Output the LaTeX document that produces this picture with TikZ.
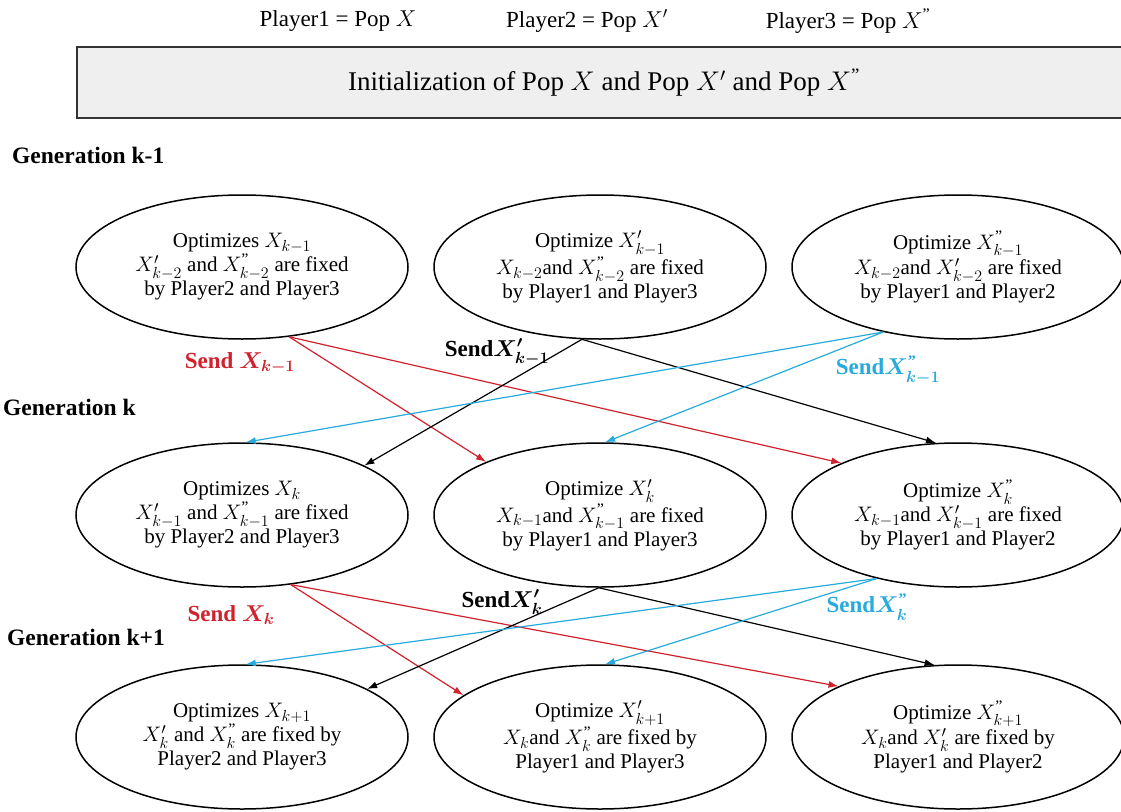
\RequirePackage{fix-cm}
\documentclass[tikz,border=0pt]{standalone}
\usepackage{amsmath}
\usepackage{fontspec}
\setmainfont{Liberation Serif}
\usetikzlibrary{positioning, arrows.meta, shapes.geometric}

\definecolor{sendred}{RGB}{208,34,44}
\definecolor{sendblue}{RGB}{40,170,220}
\definecolor{initgray}{RGB}{239,239,239}
\newcommand{\dq}{\text{"}}
\DeclareMathSizes{21}{21}{16}{12}
\DeclareMathSizes{23.5}{23.5}{17.5}{13}

\tikzset{
  player/.style={ellipse, draw, line width=1.5pt, minimum width=332pt,
    minimum height=144pt, inner sep=0pt, align=center,
    font=\fontsize{21}{24}\selectfont},
  legend/.style={font=\fontsize{23}{26}\selectfont},
  initbox/.style={draw=black!80, line width=2pt, fill=initgray,
    minimum width=1054pt, minimum height=71pt, font=\fontsize{27}{30}\selectfont},
  gen/.style={anchor=west, inner sep=0pt, font=\fontsize{23.5}{26}\selectfont\bfseries},
  send/.style={font=\fontsize{23}{26}\selectfont\bfseries\boldmath},
  sendarrow/.style={->, line width=1.2pt},
}

\begin{document}
\begin{tikzpicture}[x=1pt, y=-1pt, on grid, node distance=358pt, >={Latex[length=10pt,width=7pt]}]
  \useasboundingbox (0,0) rectangle (1121,811);

  \node[legend] (player1) at (338,21) {Player1 = Pop $X$};
  \node[legend] (player2) at (587,21) {Player2 = Pop $X'$};
  \node[legend] (player3) at (848,21) {Player3 = Pop $X^{\dq}$};
  \node[initbox] (init) at (604,82.5) {Initialization of Pop $X$ and Pop $X'$ and Pop $X^{\dq}$};

  \node[gen] (genkm1) at (12,155) {Generation k-1};
  \node[gen] (genk) at (3,407) {Generation k};
  \node[gen] (genkp1) at (7,637) {Generation k+1};

  \node[player] (Xkm1) at (242,267) {Optimizes $X_{k-1}$\\ $X'_{k-2}$ and $X^{\dq}_{k-2}$ are fixed\\ by Player2 and Player3};
  \node[player] (Xpkm1) [right=of Xkm1] {Optimize $X'_{k-1}$\\ $X_{k-2}$and $X^{\dq}_{k-2}$ are fixed\\ by Player1 and Player3};
  \node[player] (Xppkm1) [right=of Xpkm1] {Optimize $X^{\dq}_{k-1}$\\ $X_{k-2}$and $X'_{k-2}$ are fixed\\ by Player1 and Player2};
  \node[player] (Xk) [below=248pt of Xkm1] {Optimizes $X_k$\\ $X'_{k-1}$ and $X^{\dq}_{k-1}$ are fixed\\ by Player2 and Player3};
  \node[player] (Xpk) [right=of Xk] {Optimize $X'_k$\\ $X_{k-1}$and $X^{\dq}_{k-1}$ are fixed\\ by Player1 and Player3};
  \node[player] (Xppk) [right=of Xpk] {Optimize $X^{\dq}_k$\\ $X_{k-1}$and $X'_{k-1}$ are fixed\\ by Player1 and Player2};
  \node[player] (Xkp1) [below=222pt of Xk] {Optimizes $X_{k+1}$\\ $X'_k$ and $X^{\dq}_k$ are fixed by\\ Player2 and Player3};
  \node[player] (Xpkp1) [right=of Xkp1] {Optimize $X'_{k+1}$\\ $X_k$and $X^{\dq}_k$ are fixed by\\ Player1 and Player3};
  \node[player] (Xppkp1) [right=of Xpkp1] {Optimize $X^{\dq}_{k+1}$\\ $X_k$and $X'_k$ are fixed by\\ Player1 and Player2};

  \node[send, sendred] (sendXkm1) at (240,363) {Send $X_{k-1}$};
  \node[send] (sendXpkm1) at (497,352) {Send$X'_{k-1}$};
  \node[send, sendblue] (sendXppkm1) at (888,370) {Send$X^{\dq}_{k-1}$};
  \node[send, sendred] (sendXk) at (231,615) {Send $X_k$};
  \node[send] (sendXpk) at (502,602) {Send$X'_k$};
  \node[send, sendblue] (sendXppk) at (867,607) {Send$X^{\dq}_k$};

  \path[sendarrow, sendred]
  (Xkm1.-56.5) edge (Xpk.155)
    edge (Xppk.156.5)
  (Xk.-55.5) edge (Xpkp1.163)
    edge (Xppkp1.157);
  \path[sendarrow]
  (Xpkm1.-104) edge (Xk.22)
    edge (Xppk.107)
  (Xpk.-91) edge (Xkp1.21)
    edge (Xppkp1.108);
  \path[sendarrow, sendblue]
  (Xppkm1.221.5) edge (Xk.87)
    edge (Xpk.86)
  (Xppk.218) edge (Xkp1.87)
    edge (Xpkp1.86);
\end{tikzpicture}
\end{document}
